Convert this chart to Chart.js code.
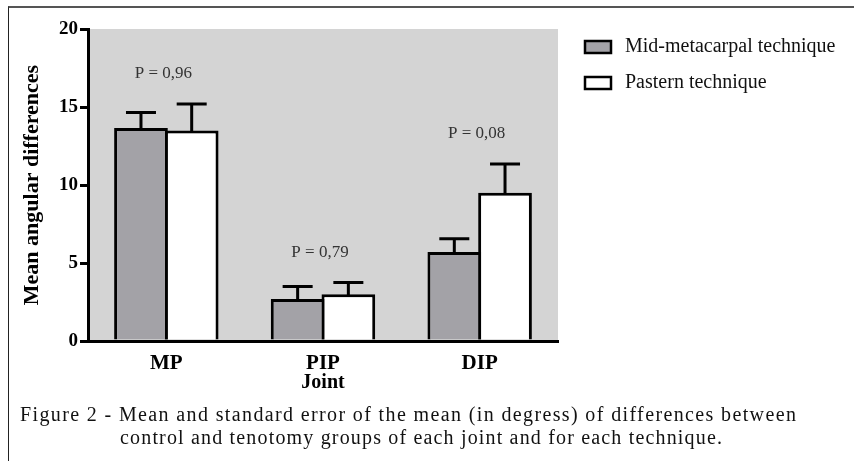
<!DOCTYPE html>
<html>
<head>
<meta charset="utf-8">
<script src="https://cdn.jsdelivr.net/npm/chart.js@4"></script>
<style>
  body { margin: 0; background: #fff; }
  #wrap { position: relative; width: 854px; height: 461px; overflow: hidden; }
  #frame { position: absolute; left: 8px; top: 6px; width: 900px; height: 500px;
           border-top: 2px solid #555; border-left: 1px solid #222; }
  canvas { position: absolute; left: 0; top: 0; }
  .cap { position: absolute; font-family: 'Liberation Serif', serif; font-size: 20px;
         color: #111; white-space: nowrap; }
</style>
</head>
<body>
<div id="wrap">
  <div id="frame"></div>
  <canvas id="barChart" width="854" height="461"></canvas>
  <div class="cap" style="left:20px; top:403px; letter-spacing:1.37px;">Figure 2 - Mean and standard error of the mean (in degress) of differences between</div>
  <div class="cap" style="left:120px; top:426px; letter-spacing:1.17px;">control and tenotomy groups of each joint and for each technique.</div>
</div>
<script>
const joints = ['MP', 'PIP', 'DIP'];
const midMetacarpal = [13.65, 2.7, 5.7];
const midMetacarpalErr = [1.0, 0.8, 0.85];
const pastern = [13.5, 3.0, 9.5];
const pasternErr = [1.7, 0.75, 1.85];
const pValues = ['P = 0,96', 'P = 0,79', 'P = 0,08'];

const serif = "'Liberation Serif', 'Times New Roman', serif";
const plot_bg_color = '#d4d4d4';
const mid_color = '#a3a2a7';

const extras = {
  id: 'extras',
  beforeDraw(chart) {
    const a = chart.chartArea;
    const c = chart.ctx;
    c.save();
    c.fillStyle = plot_bg_color;
    c.fillRect(a.left, a.top, a.right - a.left, a.bottom - a.top);
    c.restore();
  },
  afterDatasetsDraw(chart) {
    const c = chart.ctx;
    const y = chart.scales.y;
    const errs = [midMetacarpalErr, pasternErr];
    const tops = [];
    c.save();
    c.strokeStyle = '#000';
    c.lineWidth = 3;
    chart.data.datasets.forEach((ds, i) => {
      const meta = chart.getDatasetMeta(i);
      meta.data.forEach((bar, j) => {
        const yTop = y.getPixelForValue(ds.data[j] + errs[i][j]);
        const yBar = bar.y + 1;
        c.beginPath();
        c.moveTo(bar.x, yBar);
        c.lineTo(bar.x, yTop);
        c.moveTo(bar.x - 15, yTop);
        c.lineTo(bar.x + 15, yTop);
        c.stroke();
        tops[j] = Math.min(tops[j] ?? Infinity, yTop);
      });
    });
    // p values above each joint
    c.fillStyle = '#333';
    c.font = '17px ' + serif;
    c.textAlign = 'center';
    c.textBaseline = 'middle';
    const x = chart.scales.x;
    pValues.forEach((p, j) => {
      c.fillText(p, x.getPixelForValue(j) - 3, tops[j] - 30);
    });
    c.restore();
  },
  afterDraw(chart) {
    // legend at the right
    const c = chart.ctx;
    c.save();
    c.font = '20px ' + serif;
    c.textBaseline = 'middle';
    c.textAlign = 'left';
    chart.data.datasets.forEach((ds, i) => {
      const cy = 47 + i * 36;
      c.fillStyle = ds.backgroundColor;
      c.fillRect(585, cy - 6, 26, 12);
      c.strokeStyle = '#000';
      c.lineWidth = 2.5;
      c.strokeRect(585, cy - 6, 26, 12);
      c.fillStyle = '#111';
      c.fillText(ds.label, 625, cy);
    });
    c.restore();
  }
};

new Chart(document.getElementById('barChart'), {
  type: 'bar',
  data: {
    labels: joints,
    datasets: [{
      label: 'Mid-metacarpal technique',
      data: midMetacarpal,
      backgroundColor: mid_color,
      borderColor: '#000',
      borderWidth: 3
    }, {
      label: 'Pastern technique',
      data: pastern,
      backgroundColor: '#ffffff',
      borderColor: '#000',
      borderWidth: 3
    }]
  },
  options: {
    responsive: false,
    animation: false,
    events: [],
    layout: { padding: { left: 19, top: 29, right: 296, bottom: 66 } },
    categoryPercentage: 0.6474,
    barPercentage: 1.0594,
    plugins: {
      legend: { display: false },
      tooltip: { enabled: false }
    },
    scales: {
      x: {
        grid: { display: false, drawTicks: false },
        border: { color: '#000', width: 3 },
        ticks: { color: '#000', font: { family: serif, size: 21, weight: 'bold' }, padding: 10 },
        title: { display: true, text: 'Joint', color: '#000', padding: 0,
                 font: { family: serif, size: 20, weight: 'bold' } },
        afterFit: (s) => { s.height = 54; }
      },
      y: {
        min: 0,
        max: 20,
        ticks: { stepSize: 5, color: '#000', font: { family: serif, size: 19, weight: 'bold' }, padding: 2 },
        grid: { drawOnChartArea: false, color: '#000', tickColor: '#000', lineWidth: 3, tickLength: 8 },
        border: { color: '#000', width: 3 },
        title: { display: true, text: 'Mean angular differences', color: '#000', padding: 0,
                 font: { family: serif, size: 22, weight: 'bold' } },
        afterFit: (s) => { s.width = 69; }
      }
    }
  },
  plugins: [extras]
});
</script>
</body>
</html>
